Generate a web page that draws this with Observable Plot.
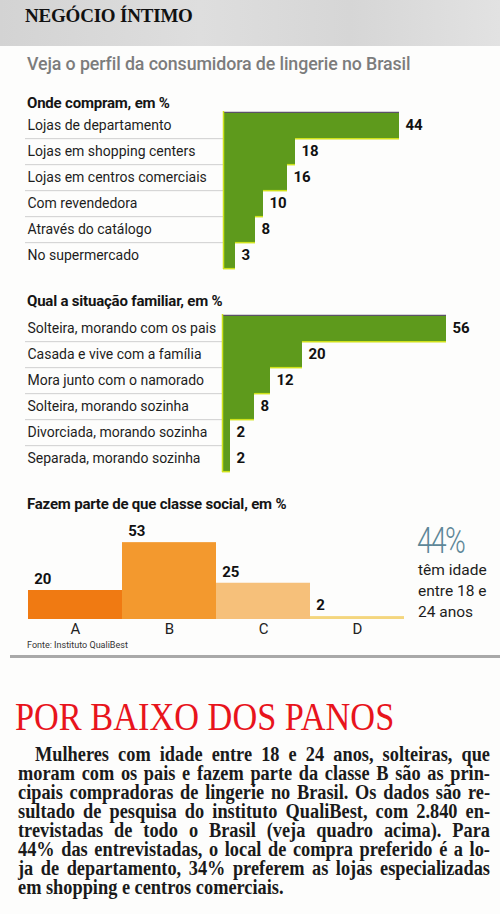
<!DOCTYPE html>
<html lang="pt-BR">
<head>
<meta charset="utf-8">
<script src="https://cdn.jsdelivr.net/npm/d3@7"></script>
<script src="https://cdn.jsdelivr.net/npm/@observablehq/plot@0.6"></script>
<style>
  html, body { margin: 0; padding: 0; background: #fdfdfc; }
  #page { position: relative; width: 500px; height: 914px; overflow: hidden; font-family: Roboto, "Noto Sans", sans-serif; color: #1d1d1d; }
  .abs { position: absolute; }
  #band { left: 0; top: 0; width: 500px; height: 46px; background: linear-gradient(90deg, #d3d3d3, #dedede 40%, #d6d6d6 70%, #e2e2e2); }
  #kicker { left: 25px; top: 5px; font-family: "Liberation Serif", serif; font-weight: bold; font-size: 19px; letter-spacing: -0.2px; color: #111; }
  #sub { left: 27px; top: 53px; font-size: 17.8px; font-weight: 500; color: #7c7c7c; letter-spacing: -0.1px; }
  .sec { left: 27px; font-size: 15px; font-weight: bold; color: #151515; letter-spacing: -0.2px; }
  .chart svg { display: block; overflow: visible; }
  #big { left: 417px; top: 523px; font-size: 36px; font-weight: 300; color: #5d8798; letter-spacing: -2px; line-height: 36px; transform-origin: 0 0; transform: scaleX(0.78); }
  #bigtxt { left: 418px; top: 560px; font-size: 15.5px; line-height: 21px; color: #1d1d1d; }
  #fonte { left: 27px; top: 640px; font-size: 9px; color: #333; }
  #rule { left: 10px; top: 655px; width: 490px; height: 3px; background: #a9a9a9; }
  #head { left: 15px; top: 694px; font-family: "Liberation Serif", serif; font-size: 39px; color: #e8141c; white-space: nowrap; transform-origin: 0 0; transform: scaleX(0.88); }
  #body { left: 18px; top: 745px; font-family: "Liberation Serif", serif; font-weight: bold; font-size: 20.5px; line-height: 19px; color: #1a1a1a; transform-origin: 0 0; }
  #body div { height: 19px; text-align: justify; text-align-last: justify; white-space: nowrap; }
  #body div.last { text-align-last: left; }
</style>
</head>
<body>
<div id="page">
  <div id="band" class="abs"></div>
  <div id="kicker" class="abs">NEGÓCIO ÍNTIMO</div>
  <div id="sub" class="abs">Veja o perfil da consumidora de lingerie no Brasil</div>

  <div class="abs sec" style="top:94px">Onde compram, em %</div>
  <div id="c1" class="abs chart" style="left:0;top:100px"></div>

  <div class="abs sec" style="top:292px">Qual a situação familiar, em %</div>
  <div id="c2" class="abs chart" style="left:0;top:303px"></div>

  <div class="abs sec" style="top:495px">Fazem parte de que classe social, em %</div>
  <div id="c3" class="abs chart" style="left:0;top:500px"></div>

  <div id="big" class="abs">44%</div>
  <div id="bigtxt" class="abs">têm idade<br>entre 18 e<br>24 anos</div>
  <div id="fonte" class="abs">Fonte: Instituto QualiBest</div>
  <div id="rule" class="abs"></div>

  <div id="head" class="abs">POR BAIXO DOS PANOS</div>
  <div id="body" class="abs">
    <div class="first"><span>Mulheres com idade entre 18 e 24 anos, solteiras, que</span></div>
    <div><span>moram com os pais e fazem parte da classe B são as prin-</span></div>
    <div><span>cipais compradoras de lingerie no Brasil. Os dados são re-</span></div>
    <div><span>sultado de pesquisa do instituto QualiBest, com 2.840 en-</span></div>
    <div><span>trevistadas de todo o Brasil (veja quadro acima). Para</span></div>
    <div><span>44% das entrevistadas, o local de compra preferido é a lo-</span></div>
    <div><span>ja de departamento, 34% preferem as lojas especializadas</span></div>
    <div class="last"><span>em shopping e centros comerciais.</span></div>
  </div>
</div>

<script>
// Onde compram, em %
const shopLabels = [
  "Lojas de departamento",
  "Lojas em shopping centers",
  "Lojas em centros comerciais",
  "Com revendedora",
  "Através do catálogo",
  "No supermercado"
];
const shopValues = [44, 18, 16, 10, 8, 3];

// Qual a situação familiar, em %
const familyLabels = [
  "Solteira, morando com os pais",
  "Casada e vive com a família",
  "Mora junto com o namorado",
  "Solteira, morando sozinha",
  "Divorciada, morando sozinha",
  "Separada, morando sozinha"
];
const familyValues = [56, 20, 12, 8, 2, 2];

// Fazem parte de que classe social, em %
const classLabels = ["A", "B", "C", "D"];
const classValues = [20, 53, 25, 2];

const GREEN = "#5e9a1c";
const LIME = "#cfe21a";

// Staircase of horizontal bars: each bar sits flush on the next one,
// with a lime edge along the exposed bottom steps and the left side.
function stepChart(labels, values, x0) {
  const rows = labels.map((label, i) => ({label, value: values[i], next: i + 1 < values.length ? values[i + 1] : 0}));
  const height = 175, marginTop = 11, marginBottom = 6;
  const bw = (height - marginTop - marginBottom) / rows.length;
  const labelX = 27;
  const sepStart = -(x0 - 25) / 4; // separators run under the labels, in x units (4 px per unit)
  return Plot.plot({
    width: 500,
    height,
    marginTop,
    marginBottom,
    marginLeft: x0,
    marginRight: 500 - (x0 + 240),
    x: {domain: [0, 60], axis: null},
    y: {domain: labels, padding: 0, axis: null},
    style: {fontFamily: "Roboto, sans-serif", background: "transparent", overflow: "visible"},
    marks: [
      Plot.ruleY(rows.slice(0, -1), {y: "label", x1: sepStart, x2: 0, dy: bw / 2, stroke: "#cfcfcf", strokeWidth: 1}),
      Plot.barX(rows, {x: "value", y: "label", fill: GREEN, inset: 0}),
      Plot.ruleY(rows, {y: "label", x1: "next", x2: "value", dy: bw / 2, stroke: LIME, strokeWidth: 1.5}),
      Plot.ruleY(rows.slice(0, 1), {y: "label", x1: 0, x2: "value", dy: -bw / 2, stroke: "#5b5168", strokeWidth: 1.3}),
      Plot.ruleX([0], {stroke: LIME, strokeWidth: 1.5}),
      Plot.text(rows, {x: "value", y: "label", text: (d) => String(d.value), dx: 6, textAnchor: "start", fontWeight: "bold", fontSize: 15, fill: "#111"}),
      Plot.axisY({label: null, tickSize: 0, tickPadding: 0, textAnchor: "start", dx: -(x0 - labelX), fontSize: 14, fill: "#1d1d1d"})
    ]
  });
}

document.getElementById("c1").append(stepChart(shopLabels, shopValues, 223));
document.getElementById("c2").append(stepChart(familyLabels, familyValues, 222));

// Columns for social class, drawn edge to edge
const classRows = classLabels.map((label, i) => ({label, value: classValues[i]}));
const classWidth = 500 - 27 - 95;
const colBand = classWidth / classLabels.length;
document.getElementById("c3").append(Plot.plot({
  width: 500,
  height: 140,
  marginTop: 32,
  marginBottom: 21,
  marginLeft: 27,
  marginRight: 95,
  x: {domain: classLabels, padding: 0, axis: null},
  y: {domain: [0, 60], axis: null},
  color: {domain: classLabels, range: ["#f07a12", "#f3992e", "#f6c07a", "#f4d67e"]},
  style: {fontFamily: "Roboto, sans-serif", background: "transparent", overflow: "visible"},
  marks: [
    Plot.barY(classRows, {x: "label", y: "value", fill: "label", inset: 0}),
    Plot.text(classRows, {x: "label", y: "value", text: (d) => String(d.value), dx: -colBand / 2 + 6, dy: -11, textAnchor: "start", fontWeight: "bold", fontSize: 15, fill: "#111"}),
    Plot.axisX({label: null, tickSize: 0, tickPadding: 4, fontSize: 15, fill: "#222"})
  ]
}));

// Fit the body column into 472px: condense the type horizontally so the
// widest line just fills the column, then justify every line but the last.
(function fitColumn() {
  const col = document.getElementById("body");
  const columnWidth = 472, indent = 17;
  const lines = [...col.querySelectorAll("div")];
  let scale = Infinity;
  for (const line of lines) {
    const w = line.querySelector("span").getBoundingClientRect().width;
    const avail = line.classList.contains("first") ? columnWidth - indent : columnWidth;
    scale = Math.min(scale, avail / w);
  }
  scale *= 0.995;
  col.style.width = (columnWidth / scale) + "px";
  col.style.transform = `scaleX(${scale})`;
  lines.find((l) => l.classList.contains("first")).style.paddingLeft = (indent / scale) + "px";
})();
</script>
</body>
</html>
